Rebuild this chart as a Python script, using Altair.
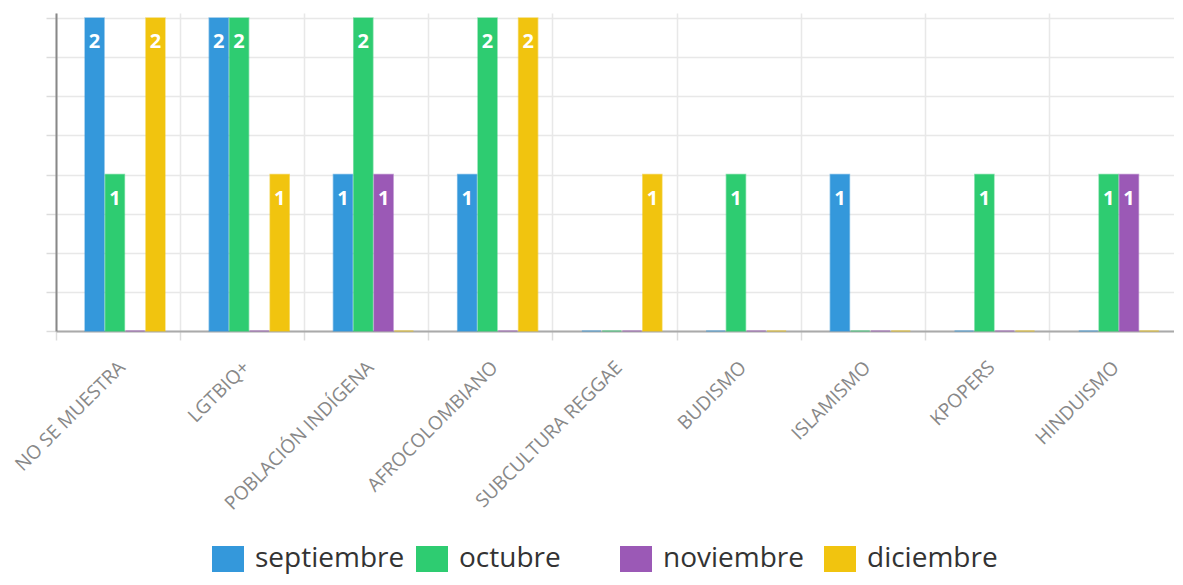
import altair as alt
import pandas as pd

categorias = ["NO SE MUESTRA", "LGTBIQ+", "POBLACIÓN INDÍGENA", "AFROCOLOMBIANO",
              "SUBCULTURA REGGAE", "BUDISMO", "ISLAMISMO", "KPOPERS", "HINDUISMO"]
meses = ["septiembre", "octubre", "noviembre", "diciembre"]
septiembre = [2, 2, 1, 1, 0, 0, 1, 0, 0]
octubre = [1, 2, 2, 2, 0, 1, 0, 1, 1]
noviembre = [0, 0, 1, 0, 0, 0, 0, 0, 1]
diciembre = [2, 1, 0, 2, 1, 0, 0, 0, 0]
colores = ["#3498db", "#2ecc71", "#9b59b6", "#f1c40f"]
y_ticks = [0, 0.25, 0.5, 0.75, 1, 1.25, 1.5, 1.75, 2]

series = [septiembre, octubre, noviembre, diciembre]
rows = []
for i, c in enumerate(categorias):
    for m, vals in zip(meses, series):
        rows.append({"categoria": c, "mes": m, "valor": vals[i]})
df = pd.DataFrame(rows)

FONT = "Open Sans"

x_enc = alt.X(
    "categoria:N", sort=categorias,
    scale=alt.Scale(paddingInner=0, paddingOuter=0),
    axis=alt.Axis(title=None, bandPosition=0, labelAngle=-45, labelAlign="right",
                  labelBaseline="middle", labelOffset=4, labelPadding=24,
                  labelFont=FONT, labelFontSize=19, labelColor="#888888",
                  labelOverlap=False, labelBound=False, labelLimit=0,
                  tickSize=9, tickColor="#dcdcdc", tickWidth=1.5,
                  grid=True, gridColor="#e8e8e8", gridWidth=1.5,
                  domainColor="#aaaaaa", domainWidth=2),
)
xoff_enc = alt.XOffset("mes:N", sort=meses,
                       scale=alt.Scale(range=[29, 109], paddingInner=0.06))
y_enc = alt.Y(
    "valor:Q",
    scale=alt.Scale(domain=[0, 2.032], nice=False, zero=True),
    axis=alt.Axis(title=None, labels=False, values=y_ticks, tickCount=9, tickSize=10,
                  tickColor="#dcdcdc", tickWidth=1.5, grid=True,
                  gridColor="#e8e8e8", gridWidth=1.5,
                  domainColor="#888888", domainWidth=2),
)

color_scale = alt.Scale(domain=meses, range=colores)

bars = alt.Chart(df).mark_bar(strokeWidth=1.5, strokeOpacity=0.55).encode(
    x=x_enc,
    xOffset=xoff_enc,
    y=y_enc,
    color=alt.Color("mes:N", scale=color_scale, sort=meses,
                    legend=alt.Legend(title=None, orient="none", legendX=158, legendY=532,
                                      direction="horizontal",
                                      symbolType="M-1.23,-1H1.23V1H-1.23Z", symbolSize=676,
                                      symbolStrokeWidth=0, symbolOpacity=1,
                                      labelFontSize=28, labelFont=FONT, labelColor="#333",
                                      gridAlign="all", columnPadding=11, labelOffset=13,
                                      padding=0, labelLimit=0)),
    stroke=alt.Stroke("mes:N", scale=color_scale, legend=None),
)

labels = alt.Chart(df).transform_filter(alt.datum.valor > 0).mark_text(
    color="white", font=FONT, fontSize=20, fontWeight="bold",
    baseline="alphabetic", align="center", dy=30,
).encode(
    x=alt.X("categoria:N", sort=categorias),
    xOffset=alt.XOffset("mes:N", sort=meses),
    y=alt.Y("valor:Q"),
    text=alt.Text("valor:Q"),
)

chart = alt.layer(bars, labels).properties(
    width=1118, height=318,
    autosize=alt.AutoSizeParams(type="none"),
    padding={"left": 48, "top": 5, "right": 0, "bottom": 246},
    background="white",
).configure_view(stroke=None)

chart.save("out.html", embed_options={"renderer": "svg", "actions": False})
